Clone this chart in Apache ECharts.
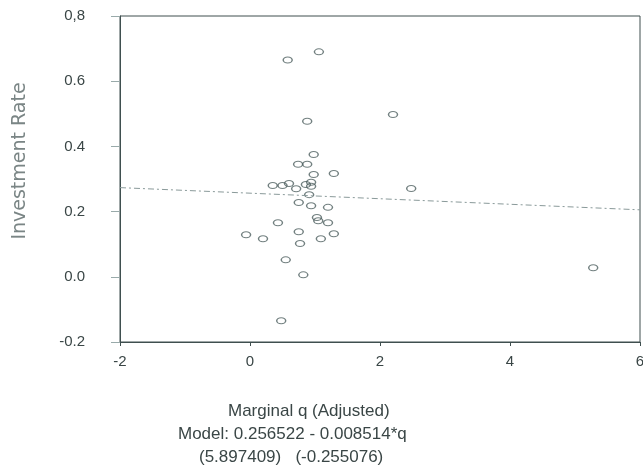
<!DOCTYPE html>
<html><head><meta charset="utf-8">
<script src="https://cdn.jsdelivr.net/npm/echarts@6/dist/echarts.min.js"></script>
<style>html,body{margin:0;padding:0;background:#fff}#c{width:643px;height:466px}</style>
</head><body><div id="c"></div>
<script>
const qValues = [0.58,1.06,0.88,2.2,0.98,0.74,0.88,0.98,1.29,0.35,0.5,0.6,0.71,0.86,0.94,0.94,0.91,2.48,0.75,0.94,1.2,1.03,1.05,1.2,0.43,-0.06,0.2,0.75,1.29,1.09,0.77,0.55,0.82,0.48,5.28];
const rateValues = [0.665,0.69,0.477,0.498,0.375,0.345,0.345,0.314,0.317,0.28,0.28,0.286,0.27,0.283,0.29,0.278,0.252,0.271,0.228,0.218,0.213,0.182,0.172,0.166,0.166,0.129,0.117,0.138,0.132,0.117,0.102,0.052,0.006,-0.135,0.028];
const fitIntercept = 0.256522;
const fitSlope = -0.008514;
const fitX = [-2, 6];
const yTickLabels = {"0.8":"0,8","0.6":"0.6","0.4":"0.4","0.2":"0.2","0":"0.0","-0.2":"-0.2"};
const yTitle = "Investment Rate";
const xTitle = "Marginal q (Adjusted)";
const modelLine = "Model: 0.256522 - 0.008514*q";
const tStats = "(5.897409)   (-0.255076)";

const pts = qValues.map((q,i)=>[q, rateValues[i]]);
const fit = fitX.map(x=>[x, fitIntercept + fitSlope*x]);
const ink = '#3f4f4f';
const txt = '#3a4646';
const chart = echarts.init(document.getElementById('c'), null, {renderer:'canvas'});
chart.setOption({
  animation:false,
  backgroundColor:'#fff',
  grid:{left:120, top:16, right:3, bottom:124, outerBoundsMode:'none', containLabel:false,
    show:true, borderColor:ink, borderWidth:1},
  xAxis:{type:'value', min:-2, max:6, interval:2,
    axisLine:{show:true, onZero:false, lineStyle:{color:ink}},
    axisTick:{show:true, length:4, lineStyle:{color:ink}},
    splitLine:{show:false},
    axisLabel:{color:txt, fontFamily:'Liberation Sans', fontSize:15, margin:12}},
  yAxis:{type:'value', min:-0.2, max:0.8, interval:0.2,
    axisLine:{show:true, onZero:false, lineStyle:{color:ink}},
    axisTick:{show:true, length:9, lineStyle:{color:'#9aa'}},
    splitLine:{show:false},
    axisLabel:{color:txt, fontFamily:'Liberation Sans', fontSize:15, margin:35,
      formatter:v=>{const k=String(Math.round(v*10)/10); return yTickLabels[k]!==undefined?yTickLabels[k]:k;}}},
  graphic:[
    {type:'text', x:20, y:161, rotation:Math.PI/2,
     style:{text:yTitle, font:'19px "DejaVu Sans"', fill:'#7a8585', align:'center', verticalAlign:'middle'}},
    {type:'text', left:228, top:403, style:{text:xTitle, font:'17px "Liberation Sans"', fill:txt}},
    {type:'text', left:178, top:426, style:{text:modelLine, font:'17px "Liberation Sans"', fill:txt}},
    {type:'text', left:199, top:449, style:{text:tStats, font:'17px "Liberation Sans"', fill:txt}}
  ],
  series:[
    {type:'line', data:fit, symbol:'none', silent:true,
     lineStyle:{color:'#8a9a9a', width:1, type:[6,3,2,3]}},
    {type:'scatter', data:pts, symbol:'circle', symbolSize:[9,6],
     itemStyle:{color:'rgba(255,255,255,0)', borderColor:'#4f6060', borderWidth:1.2}}
  ]
});
</script></body></html>
